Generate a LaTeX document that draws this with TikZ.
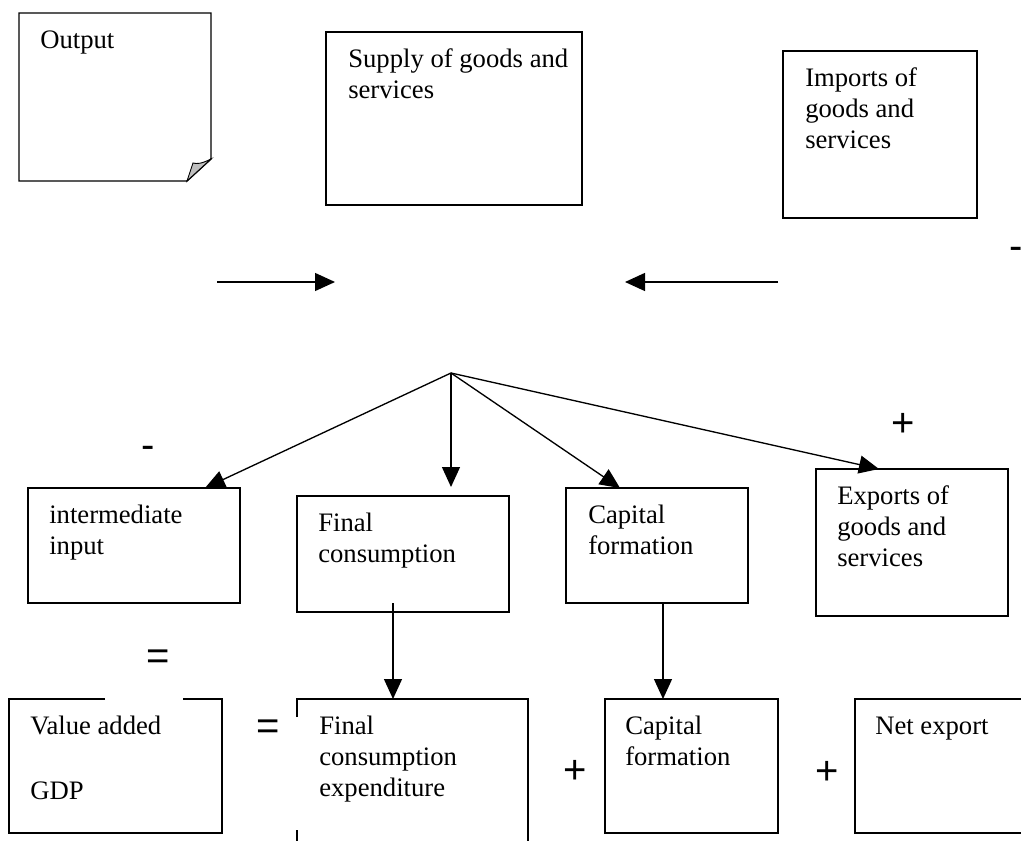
\documentclass[tikz,border=0pt]{standalone}
\usepackage{fontspec}
\setmainfont{Liberation Serif}
\newfontfamily\signfont{Liberation Sans}
\usetikzlibrary{arrows.meta,calc}
\newcommand\firststrut{\rule{0pt}{26.25pt}}
\begin{document}
\begin{tikzpicture}[x=0.75pt,y=-0.75pt,
  sz/.style 2 args={minimum width=#1*0.75pt,minimum height=#2*0.75pt},
  box/.style={draw,line width=1.1pt,anchor=north west,inner sep=0pt,outer sep=0pt},
  ghost/.style={anchor=north west,inner sep=0pt,outer sep=0pt},
  txt/.style={anchor=north west,inner sep=0pt,align=left,font=\fontsize{20}{23.2}\selectfont},
  sign/.style={inner sep=0pt,font=\signfont\fontsize{30}{30}\selectfont},
  arr/.style={line width=1pt,-{Triangle[length=15pt,width=13.5pt]}},
  edge/.style={line width=1.1pt},
]
\useasboundingbox (0,0) rectangle (1021,841);

% ---- top row ----
\node[ghost,sz={192}{168}] (out) at (19,13) {};
\draw[edge] (out.north west) -- (out.north east) -- ($(out.south east)+(0,-22)$)
  -- ($(out.south east)+(-24,0)$) -- (out.south west) -- cycle;
\filldraw[fill=black!25,line width=0.7pt] ($(out.south east)+(-24,0)$)
  -- (193,163) .. controls (197,164) and (201,164) .. ($(out.south east)+(0,-22)$) -- cycle;
\node[txt] (outT) at ($(out.north west)+(21,0)$) {\firststrut Output};

\node[box,sz={256}{173}] (sup) at (326,32) {};
\node[txt] (supT) at ($(sup.north west)+(22,0)$) {\firststrut Supply of goods and\\services};

\node[box,sz={194}{167}] (imp) at (783,51) {};
\node[txt] (impT) at ($(imp.north west)+(22,0)$) {\firststrut Imports of\\goods and\\services};

\node[sign] (minusR) at (1016,253) {-};

% ---- horizontal arrows ----
\coordinate (lA) at (217,282);
\coordinate (lB) at (335,282);
\coordinate (rA) at (778,282);
\coordinate (rB) at (625,282);
\draw[arr] (lA) -- (lB);
\draw[arr] (rA) -- (rB);

% ---- middle row ----
\coordinate (hub) at (451,373);

\node[sign] (minusL) at (148,452) {-};
\node[sign] (plusT) at (903,425) {+};

\node[box,sz={212}{115}] (inter) at (28,488) {};
\node[txt] (interT) at ($(inter.north west)+(21,0)$) {\firststrut intermediate\\input};

\node[box,sz={212}{116}] (fc) at (297,496) {};
\node[txt] (fcT) at ($(fc.north west)+(21,0)$) {\firststrut Final\\consumption};

\node[box,sz={182}{115}] (capt) at (566,488) {};
\node[txt] (captT) at ($(capt.north west)+(22,0)$) {\firststrut Capital\\formation};

\node[box,sz={192}{147}] (exp) at (816,469) {};
\node[txt] (expT) at ($(exp.north west)+(21,0)$) {\firststrut Exports of\\goods and\\services};

\draw[arr] (hub) -- ($(inter.north west)+(177,0)$);
\draw[arr] (hub) -- ($(fc.north west)+(154,-9)$);
\draw[arr] (hub) -- ($(capt.north west)+(54,0)$);
\draw[arr] (hub) -- ($(exp.north west)+(63,0)$);

\node[sign] (eqT) at (158,660) {=};

% ---- bottom row ----
\node[ghost,sz={213}{134}] (va) at (9,699) {};
\draw[edge] (105,699) -- (va.north west) -- (va.south west) -- (va.south east)
  -- (va.north east) -- (183,699);
\node[txt] (vaT) at ($(va.north west)+(21,0)$) {\firststrut Value added};
\node[txt] (gdpT) at ($(va.north west)+(21,65)$) {\firststrut GDP};

\node[sign] (eqB) at (268,730) {=};

\node[ghost,sz={231}{142}] (fce) at (297,699) {};
\draw[edge] ($(fce.north west)+(0,18)$) -- (fce.north west) -- (fce.north east) -- (fce.south east);
\draw[edge] ($(fce.south west)+(0,-11)$) -- (fce.south west);
\node[txt] (fceT) at ($(fce.north west)+(22,0)$) {\firststrut Final\\consumption\\expenditure};

\node[sign] (plusA) at (575,772) {+};

\node[box,sz={173}{134}] (capb) at (605,699) {};
\node[txt] (capbT) at ($(capb.north west)+(20,0)$) {\firststrut Capital\\formation};

\node[sign] (plusB) at (827,773) {+};

\node[ghost,sz={166}{134}] (net) at (855,699) {};
\draw[edge] (net.north east) -- (net.north west) -- (net.south west) -- (net.south east);
\node[txt] (netT) at ($(net.north west)+(20,0)$) {\firststrut Net export};

\draw[arr] ($(fc.south west)+(96,-9)$) -- ($(fce.north west)+(96,0)$);
\draw[arr] ($(capt.south west)+(97,0)$) -- ($(capb.north west)+(58,0)$);
\end{tikzpicture}
\end{document}
